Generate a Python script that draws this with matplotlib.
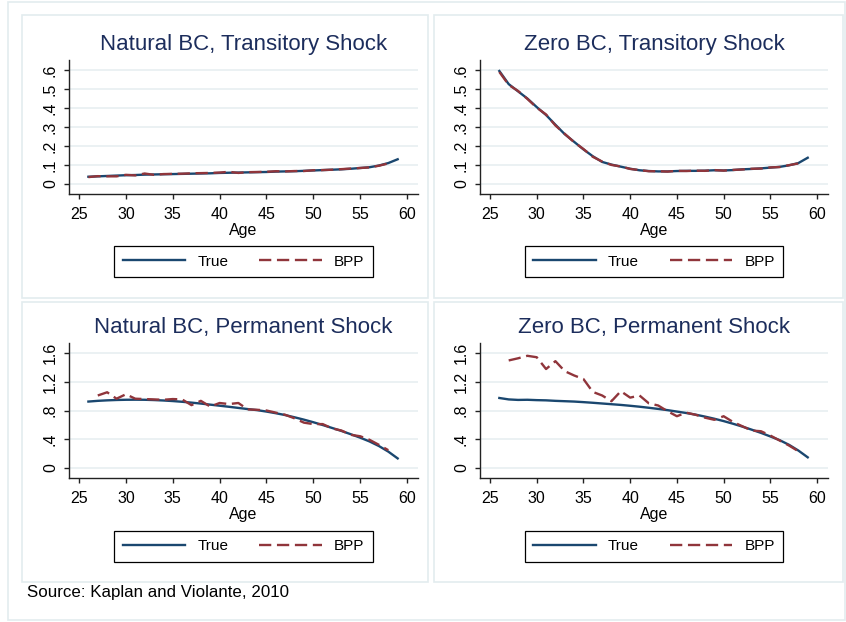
import matplotlib
matplotlib.use("Agg")
import matplotlib.pyplot as plt
from matplotlib.patches import Rectangle

plt.rcParams['font.family'] = ['Liberation Sans', 'DejaVu Sans']

# ---- data ----
ages = list(range(26, 60))
ages_bpp_trans = list(range(26, 59))
ages_bpp_perm = list(range(27, 59))

nat_trans_true = [.038, .040, .042, .044, .046, .047, .049, .050, .051, .052, .053, .054,
                  .055, .056, .058, .059, .060, .061, .062, .063, .065, .066, .067, .069,
                  .071, .073, .075, .077, .080, .084, .088, .097, .110, .130]
nat_trans_bpp = [.036, .041, .040, .040, .048, .045, .055, .048, .052, .053, .054, .056,
                 .057, .058, .060, .064, .058, .062, .063, .064, .067, .066, .068, .068,
                 .072, .073, .075, .078, .081, .084, .087, .096, .108]

zero_trans_true = [.595, .526, .488, .450, .405, .363, .312, .262, .222, .182, .146, .116,
                   .102, .091, .080, .072, .068, .066, .066, .068, .069, .069, .070, .072,
                   .071, .073, .077, .079, .082, .086, .090, .098, .110, .138]
zero_trans_bpp = [.590, .522, .490, .448, .402, .366, .308, .264, .220, .184, .143, .118,
                  .100, .092, .079, .073, .067, .067, .065, .069, .068, .070, .069, .073,
                  .070, .074, .076, .080, .081, .087, .089, .099, .108]

nat_perm_true = [.925, .935, .942, .947, .950, .951, .950, .946, .940, .932, .922, .910,
                 .897, .882, .867, .852, .836, .820, .805, .785, .762, .736, .705, .672,
                 .636, .597, .556, .514, .468, .420, .367, .303, .225, .130]
nat_perm_bpp = [1.01, 1.055, .965, 1.027, .965, .96, .955, .95, .96, .955, .875, .935,
                .855, .905, .89, .905, .815, .81, .80, .77, .74, .69, .63, .61,
                .61, .55, .52, .46, .44, .39, .32, .245]

zero_perm_true = [.975, .955, .948, .950, .945, .942, .935, .930, .925, .917, .908, .898,
                  .888, .878, .866, .853, .838, .822, .805, .785, .765, .742, .715, .685,
                  .652, .615, .575, .532, .487, .437, .385, .320, .240, .145]
zero_perm_bpp = [1.50, 1.53, 1.565, 1.545, 1.38, 1.49, 1.35, 1.29, 1.24, 1.06, 1.01, .93,
                 1.07, .98, 1.01, .90, .87, .79, .72, .77, .74, .70, .67, .72,
                 .64, .58, .52, .51, .45, .38, .31, .23]

titles = ["Natural BC, Transitory Shock", "Zero BC, Transitory Shock",
          "Natural BC, Permanent Shock", "Zero BC, Permanent Shock"]
x_ticks = [25, 30, 35, 40, 45, 50, 55, 60]
trans_ticks = [0, .1, .2, .3, .4, .5, .6]
trans_labels = ["0", ".1", ".2", ".3", ".4", ".5", ".6"]
perm_ticks = [0, .4, .8, 1.2, 1.6]
perm_labels = ["0", ".4", ".8", "1.2", "1.6"]

NAVY = '#1a476f'
MAROON = '#90353b'
TITLE = '#1c2d5c'
GRID = '#e8eff1'
BOX = '#e3ecef'

W, H = 846, 622
fig = plt.figure(figsize=(W / 100, H / 100), dpi=100)
fig.patch.set_facecolor('white')


def px_box(x0, y0, x1, y1):
    return [x0 / W, 1 - y1 / H, (x1 - x0) / W, (y1 - y0) / H]


def frame(x0, y0, x1, y1):
    fig.patches.append(Rectangle((x0 / W, 1 - y1 / H), (x1 - x0) / W, (y1 - y0) / H,
                                 transform=fig.transFigure, fill=False,
                                 edgecolor=BOX, linewidth=1.2, zorder=0))


# outer frame and panel frames
frame(8, 2, 845, 620)
frame(22, 15, 428, 298)
frame(434, 15, 843, 298)
frame(22, 302, 428, 582)
frame(434, 302, 843, 582)

panels = [
    (px_box(69, 60, 418, 194), ages, nat_trans_true, ages_bpp_trans, nat_trans_bpp,
     trans_ticks, trans_labels, (-0.053, 0.653)),
    (px_box(480, 60, 828, 194), ages, zero_trans_true, ages_bpp_trans, zero_trans_bpp,
     trans_ticks, trans_labels, (-0.053, 0.653)),
    (px_box(69, 343, 418, 478), ages, nat_perm_true, ages_bpp_perm, nat_perm_bpp,
     perm_ticks, perm_labels, (-0.144, 1.744)),
    (px_box(480, 343, 828, 478), ages, zero_perm_true, ages_bpp_perm, zero_perm_bpp,
     perm_ticks, perm_labels, (-0.144, 1.744)),
]

for i, (box, xa, ya, xb, yb, yt, yl, ylim) in enumerate(panels):
    ax = fig.add_axes(box)
    ax.plot(xa, ya, color=NAVY, lw=1.7, label="True", zorder=3)
    ax.plot(xb, yb, color=MAROON, lw=1.7, dashes=(5.2, 2.4), label="BPP", zorder=4)
    ax.set_xlim(23.93, 61.17)
    ax.set_ylim(*ylim)
    ax.set_xticks(x_ticks)
    ax.set_yticks(yt)
    ax.set_yticklabels(yl, rotation=90, va='center')
    ax.grid(axis='y', color=GRID, lw=1.2, zorder=0)
    ax.set_axisbelow(True)
    for s in ['top', 'right']:
        ax.spines[s].set_visible(False)
    for s in ['left', 'bottom']:
        ax.spines[s].set_color('#222222')
        ax.spines[s].set_linewidth(1.0)
    ax.tick_params(axis='both', length=3.5, width=1, color='#222222', labelsize=11.5)
    ax.tick_params(axis='x', pad=6)
    ax.tick_params(axis='y', pad=4.5)
    ax.set_xlabel("Age", fontsize=11.5, labelpad=0.5)
    ax.set_title(titles[i], fontsize=16, color=TITLE, pad=7)
    ax.legend(loc='center', bbox_to_anchor=(0.5, -0.505), ncol=2, fontsize=11,
              frameon=True, fancybox=False, edgecolor='black', framealpha=1,
              handlelength=4.1, handletextpad=0.8, columnspacing=2.0,
              borderpad=0.55, borderaxespad=0)
    ax.get_legend().get_frame().set_linewidth(0.9)

fig.text(27 / W, 1 - 593 / H, "Source: Kaplan and Violante, 2010", fontsize=12.2,
         va='center', ha='left')

fig.savefig("out.png", dpi=100)
